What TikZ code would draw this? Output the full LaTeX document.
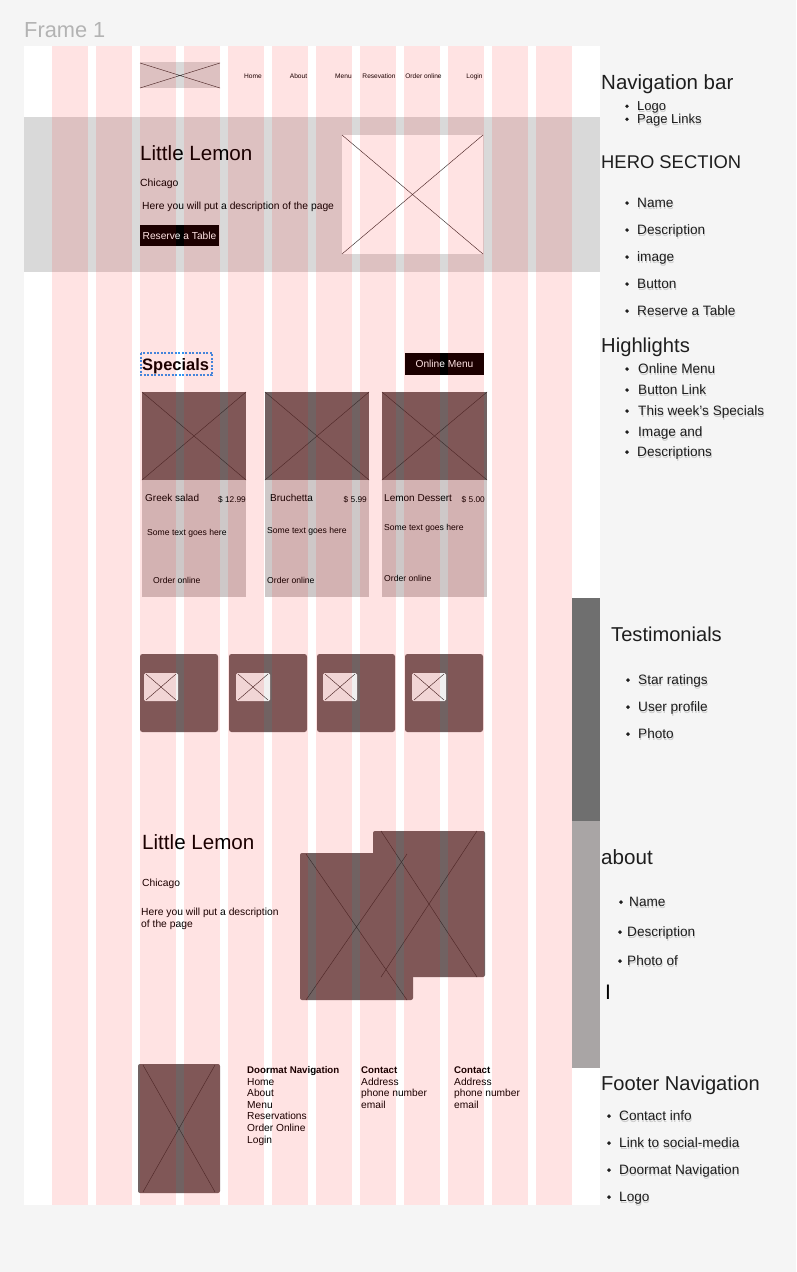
\documentclass[tikz,border=0pt]{standalone}
\usepackage{fontspec}
\setmainfont{Liberation Sans}
\definecolor{bgc}{HTML}{F5F5F5}
\definecolor{herog}{HTML}{D9D9D9}
\definecolor{darkb}{HTML}{716262}
\definecolor{cardlow}{HTML}{CEC8C8}
\definecolor{innerc}{HTML}{F0F0F0}
\definecolor{xlc}{HTML}{3A2E2E}
\definecolor{bara}{HTML}{6F6F6F}
\definecolor{barb}{HTML}{A9A5A5}
\definecolor{framelbl}{HTML}{B3B3B3}
\definecolor{selblue}{HTML}{2F95F5}
\definecolor{txt}{HTML}{1E1E1E}
\newcommand\fsz[1]{\fontsize{#1}{#1}\selectfont}
\newcommand\shtxt[1]{\rlap{\hspace{0.6pt}\raisebox{-1.6pt}{\textcolor{black!20}{#1}}}#1}
\newcommand\xbox[5]{\draw[xl] ({#1+#5},#2) -- ({#3-#5},#4) ({#3-#5},#2) -- ({#1+#5},#4);}
\begin{document}
\begin{tikzpicture}[x=1pt,y=-1pt,
  lbl/.style={inner sep=0pt,anchor=base west,text=black},
  lblr/.style={inner sep=0pt,anchor=base east,text=black},
  lblc/.style={inner sep=0pt,anchor=base,text=black},
  btn/.style={inner sep=0pt,fill=black,text=white,font=\fsz{10.2},anchor=center},
  xl/.style={draw=xlc,line width=0.45pt},
  head/.style={inner sep=0pt,anchor=base west,text=txt},
  blt/.style={inner sep=0pt,anchor=base west,text=txt,font=\fsz{13.6}}]
\useasboundingbox (0,0) rectangle (796,1272);
\fill[bgc] (0,0) rectangle (796,1272);
\node[lbl,text=framelbl,font=\fsz{21.8}] (framelabel) at (24,37.5) {Frame 1};
% frame
\fill[white] (24,46) rectangle (600,1205);
% nav bar
\fill[herog] (140,62) rectangle (220,88);
\xbox{140}{63}{220}{88}{0}
\node[lblc,font=\fsz{6.6}] (nhome) at (253,78.5) {Home};
\node[lblc,font=\fsz{6.6}] (nabout) at (298.5,78.5) {About};
\node[lblc,font=\fsz{6.6}] (nmenu) at (343.5,78.5) {Menu};
\node[lblc,font=\fsz{6.6}] (nres) at (379,78.5) {Resevation};
\node[lblc,font=\fsz{6.6}] (norder) at (423.5,78.5) {Order online};
\node[lblc,font=\fsz{6.6}] (nlogin) at (474.5,78.5) {Login};
% hero
\fill[herog] (24,117) rectangle (600,272);
\node[lbl,font=\fsz{20.6}] (herotitle) at (140,160) {Little Lemon};
\node[lbl,font=\fsz{10.4}] (herocity) at (140,186) {Chicago};
\node[lbl,font=\fsz{10.3}] (herodesc) at (142,209.5) {Here you will put a description of the page};
\node[btn,minimum width=79pt,minimum height=21pt] (herobtn) at (179.5,235.5) {Reserve a Table};
\fill[white] (342,135) rectangle (483,254);
\xbox{342}{135}{483}{254}{0}
% specials
\node[lbl,font=\bfseries\fsz{16.5}] (spectitle) at (142,370) {Specials};
\draw[selblue,line width=1.1pt,dash pattern=on 2pt off 1.5pt] (141,353) rectangle (212,375);
\node[btn,minimum width=79pt,minimum height=22pt] (menubtn) at (444.5,364) {Online Menu};
% card 1
\fill[cardlow] (142,480) rectangle (246,597);
\fill[darkb] (142,392) rectangle (246,480);
\xbox{142}{392}{246}{480}{0}
\node[lbl,font=\fsz{10}] (c1name) at (145,501.5) {Greek salad};
\node[lblr,font=\fsz{8.3}] (c1price) at (246,502) {\$ 12.99};
\node[lbl,font=\fsz{8.6}] (c1txt) at (147,535) {Some text goes here};
\node[lbl,font=\fsz{8.6}] (c1ord) at (153,583) {Order online};
% card 2
\fill[cardlow] (265,480) rectangle (369,597);
\fill[darkb] (265,392) rectangle (369,480);
\xbox{265}{392}{369}{480}{0}
\node[lbl,font=\fsz{10}] (c2name) at (270,501.5) {Bruchetta};
\node[lblr,font=\fsz{8.3}] (c2price) at (367,502) {\$ 5.99};
\node[lbl,font=\fsz{8.6}] (c2txt) at (267,533) {Some text goes here};
\node[lbl,font=\fsz{8.6}] (c2ord) at (267,583) {Order online};
% card 3
\fill[cardlow] (382,480) rectangle (487,597);
\fill[darkb] (382,392) rectangle (487,480);
\xbox{382}{392}{487}{480}{0}
\node[lbl,font=\fsz{10}] (c3name) at (384,501.5) {Lemon Dessert};
\node[lblr,font=\fsz{8.3}] (c3price) at (485,502) {\$ 5.00};
\node[lbl,font=\fsz{8.6}] (c3txt) at (384,530) {Some text goes here};
\node[lbl,font=\fsz{8.6}] (c3ord) at (384,581) {Order online};
% testimonials
\foreach \bx/\ix in {140/144,229/236,317/323,405/412}{
  \fill[darkb,rounded corners=2.5pt] (\bx,654) rectangle ({\bx+78},732);
  \fill[innerc,rounded corners=1.5pt] (\ix,673) rectangle ({\ix+34},701);
  \xbox{\ix}{674}{\ix+34}{700}{2}
}
% about
\node[lbl,font=\fsz{20.6}] (abtitle) at (142,849) {Little Lemon};
\node[lbl,font=\fsz{10.3}] (abcity) at (142,886.5) {Chicago};
\node[lbl,font=\fsz{10.3}] (abdesc1) at (141,915.5) {Here you will put a description};
\node[lbl,font=\fsz{10.3}] (abdesc2) at (141,927.5) {of the page};
\fill[darkb,rounded corners=2pt] (373,831) rectangle (485,977);
\fill[darkb,rounded corners=2pt] (300,853) rectangle (413,1000);
\xbox{373}{831}{485}{977}{8}
\xbox{300}{854}{413}{1000}{6}
% footer
\fill[darkb,rounded corners=2pt] (138,1064) rectangle (220,1193);
\xbox{138}{1065}{220}{1192}{5}
\node[lbl,font=\bfseries\fsz{9.7}] (fdoor) at (247,1073.5) {Doormat Navigation};
\foreach \t [count=\k] in {Home,About,Menu,Reservations,Order Online,Login}{
  \node[lbl,font=\fsz{10.2}] (fd\k) at (247,{1073.5+11.6*\k}) {\t};
}
\node[lbl,font=\bfseries\fsz{9.7}] (fcont1) at (361,1073.5) {Contact};
\node[lbl,font=\bfseries\fsz{9.7}] (fcont2) at (454,1073.5) {Contact};
\foreach \t [count=\k] in {Address,phone number,email}{
  \node[lbl,font=\fsz{10.2}] (fa\k) at (361,{1073.5+11.6*\k}) {\t};
  \node[lbl,font=\fsz{10.2}] (fb\k) at (454,{1073.5+11.6*\k}) {\t};
}
% layout grid overlay
\foreach \i in {0,...,11}{
  \fill[red,fill opacity=0.11] ({52+44*\i},46) rectangle ({88+44*\i},1205);
}
% side bars
\fill[bara] (572,598) rectangle (600,821);
\fill[barb] (572,821) rectangle (600,1068);
% right panel
\node[head,font=\fsz{20.5}] (hnav) at (601,89) {Navigation bar};
\node[head,font=\fsz{18.4}] (hhero) at (601,168) {HERO SECTION};
\node[head,font=\fsz{20.2}] (hhigh) at (601,352) {Highlights};
\node[head,font=\fsz{20.1}] (htest) at (611,641) {Testimonials};
\node[head,font=\fsz{20.6}] (habout) at (601,864) {about};
\node[lbl,font=\fsz{21}] (cursor) at (605,999) {I};
\node[head,font=\fsz{20.1}] (hfoot) at (601,1090) {Footer Navigation};
\fill[txt] (627,106.3) circle (1.9);
\node[blt,font=\fsz{13}] (itemlogo) at (637,110.5) {\shtxt{Logo}};
\fill[txt] (627,119.3) circle (1.9);
\node[blt,font=\fsz{13}] (itempages) at (637,123.7) {\shtxt{Page Links}};
\foreach \bx/\tx/\y/\t [count=\k] in {
  627/637/207.5/Name, 627/637/234.5/Description, 627/637/261.5/image,
  627/637/288.5/Button, 627/637/315.5/Reserve a Table,
  627/638/373.5/Online Menu, 627/638/394.5/Button Link,
  627/638/415.5/This week’s Specials, 627/638/436.5/Image and,
  627/637/456.5/Descriptions,
  628/638/684.5/Star ratings, 628/638/711.5/User profile, 628/638/738.5/Photo,
  621/629/906.5/Name, 620/627/936.5/Description, 620/627/965.5/Photo of,
  609/619/1120.5/Contact info, 609/619/1147.5/Link to social-media,
  609/619/1174.5/Doormat Navigation, 609/619/1201.5/Logo}{
  \fill[txt] (\bx,{\y-4.4}) circle (1.9);
  \node[blt] (item\k) at (\tx,\y) {\shtxt{\t}};
}
\end{tikzpicture}
\end{document}
